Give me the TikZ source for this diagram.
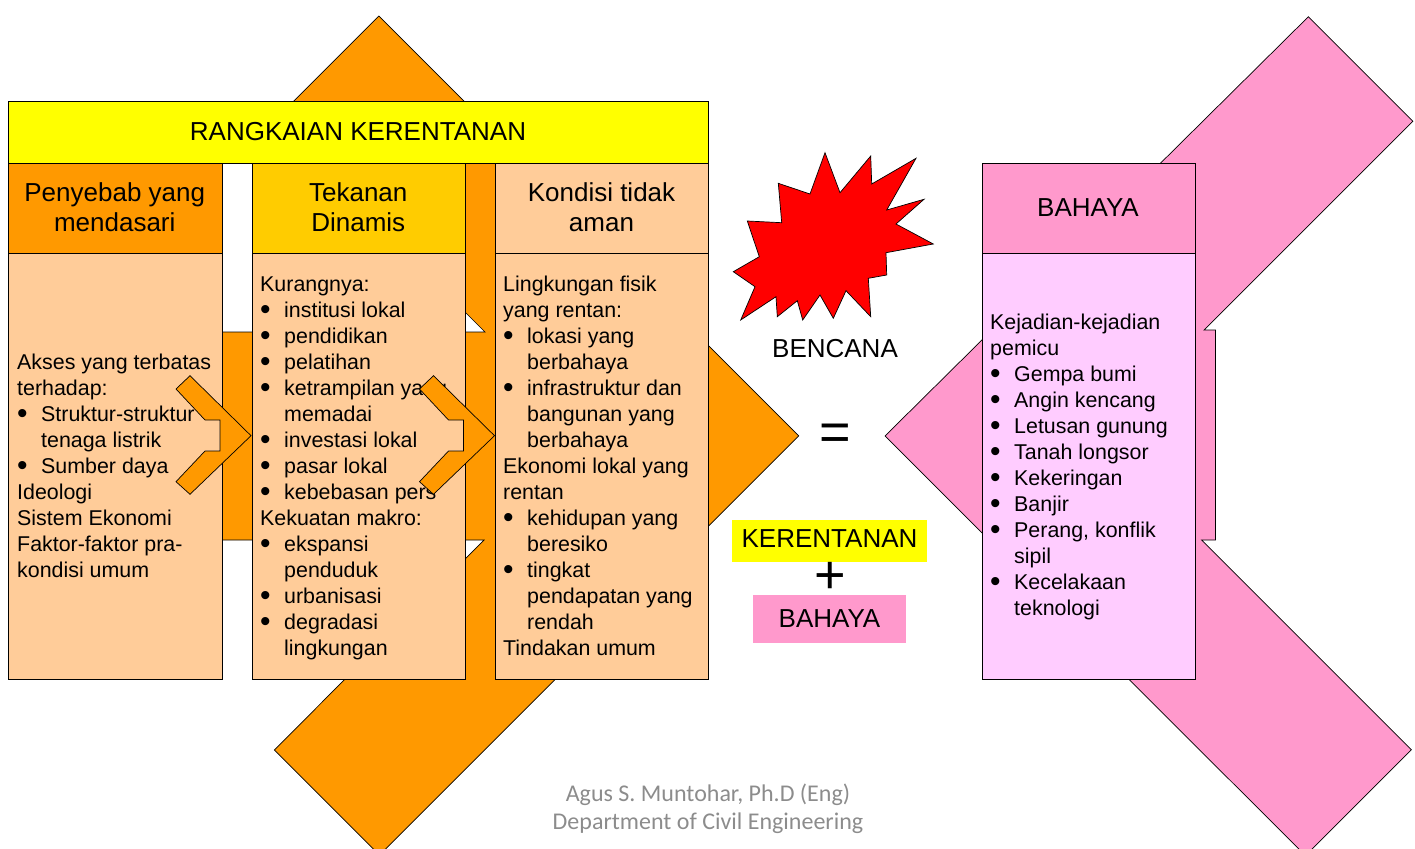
\documentclass[tikz,border=0pt]{standalone}
\usepackage{fontspec}
\setmainfont{Liberation Sans}
\newfontfamily\footfont{Carlito}
\definecolor{orangeA}{HTML}{FF9900}
\definecolor{goldA}{HTML}{FFCC00}
\definecolor{peachA}{HTML}{FFCC99}
\definecolor{yellowA}{HTML}{FFFF00}
\definecolor{pinkA}{HTML}{FF99CC}
\definecolor{pinkL}{HTML}{FFCCFF}
\definecolor{redA}{HTML}{FF0000}
\definecolor{footgray}{HTML}{8C8C8C}
\newcommand\bulx{\makebox[24pt][l]{\smash{\raisebox{-2.2pt}{\scalebox{1.4}{\textbullet}}}}}
\newcommand\indx{\hspace*{24pt}}
\begin{document}
\begin{tikzpicture}[x=1pt,y=-1pt,
  box/.style={draw=black, line width=0.9pt, rectangle, inner sep=0pt, anchor=north west},
  bigshape/.style={draw=black, line width=0.7pt, line join=miter},
  title/.style={font=\fontsize{26}{30}\selectfont, anchor=base, inner sep=0pt},
  body/.style={font=\fontsize{21.4}{26}\selectfont, anchor=base west, inner sep=0pt},
  sign/.style={font=\fontsize{54}{60}\selectfont, anchor=center, inner sep=0pt},
  foot/.style={font=\footfont\fontsize{24}{28}\selectfont, text=footgray, anchor=base, inner sep=0pt}]

\useasboundingbox (0,0) rectangle (1415,848);

% orange chevron with its horizontal band
\draw[bigshape, fill=orangeA] (378.9,16) -- (798.7,435.9) -- (379.5,855.2) -- (274.3,750)
  -- (484,540) -- (120,540) -- (120,332) -- (485,332) -- (274,121) -- cycle;

% pink chevron with its horizontal band
\draw[bigshape, fill=pinkA] (1308.4,16.7) -- (1412.9,121.2) -- (1204,330) -- (1215.4,330)
  -- (1215.4,540) -- (1201.5,540) -- (1411.3,749.8) -- (1305.5,855.6) -- (885,436) -- cycle;

% vulnerability chain boxes
\node[box, fill=yellowA, minimum width=700pt, minimum height=61.5pt] (hdr) at (8,101) {};
\node[box, fill=orangeA, minimum width=213.5pt, minimum height=90.5pt] (hone) at (8,162.5) {};
\node[box, fill=goldA, minimum width=213.5pt, minimum height=90.5pt] (htwo) at (251.5,162.5) {};
\node[box, fill=peachA, minimum width=213pt, minimum height=90.5pt] (hthree) at (495,162.5) {};
\node[box, fill=peachA, minimum width=213.5pt, minimum height=426pt] (bone) at (8,253) {};
\node[box, fill=peachA, minimum width=213.5pt, minimum height=426pt] (btwo) at (251.5,253) {};
\node[box, fill=peachA, minimum width=213pt, minimum height=426pt] (bthree) at (495,253) {};

% hazard box
\node[box, fill=pinkA, minimum width=213.5pt, minimum height=90.5pt] (hhaz) at (981.5,162.5) {};
\node[box, fill=pinkL, minimum width=213.5pt, minimum height=425.5pt] (bhaz) at (981.5,253) {};

% titles
\node[title] (hdrtxt) at (358,140.3) {RANGKAIAN KERENTANAN};
\node[title] (honea) at (114.75,201.3) {Penyebab yang};
\node[title] (honeb) at (114.75,231.3) {mendasari};
\node[title] (htwoa) at (358.25,201.3) {Tekanan};
\node[title] (htwob) at (358.25,231.3) {Dinamis};
\node[title] (hthreea) at (601.5,201.3) {Kondisi tidak};
\node[title] (hthreeb) at (601.5,231.3) {aman};
\node[title] (hhaztxt) at (1088,216.3) {BAHAYA};

% column texts
\foreach \t [count=\i from 0] in {{Akses yang terbatas}, {terhadap:}, {\bulx Struktur-struktur},
  {\indx tenaga listrik}, {\bulx Sumber daya}, {Ideologi}, {Sistem Ekonomi},
  {Faktor-faktor pra-}, {kondisi umum}}
  \node[body] (tone\i) at (17,{369.5+26*\i}) {\t};

\foreach \t [count=\i from 0] in {{Kurangnya:}, {\bulx institusi lokal}, {\bulx pendidikan},
  {\bulx pelatihan}, {\bulx ketrampilan yang}, {\indx memadai}, {\bulx investasi lokal},
  {\bulx pasar lokal}, {\bulx kebebasan pers}, {Kekuatan makro:}, {\bulx ekspansi},
  {\indx penduduk}, {\bulx urbanisasi}, {\bulx degradasi}, {\indx lingkungan}}
  \node[body] (ttwo\i) at (260,{291.5+26*\i}) {\t};

\foreach \t [count=\i from 0] in {{Lingkungan fisik}, {yang rentan:}, {\bulx lokasi yang},
  {\indx berbahaya}, {\bulx infrastruktur dan}, {\indx bangunan yang}, {\indx berbahaya},
  {Ekonomi lokal yang}, {rentan}, {\bulx kehidupan yang}, {\indx beresiko}, {\bulx tingkat},
  {\indx pendapatan yang}, {\indx rendah}, {Tindakan umum}}
  \node[body] (tthree\i) at (503,{291.5+26*\i}) {\t};

\foreach \t [count=\i from 0] in {{Kejadian-kejadian}, {pemicu}, {\bulx Gempa bumi},
  {\bulx Angin kencang}, {\bulx Letusan gunung}, {\bulx Tanah longsor}, {\bulx Kekeringan},
  {\bulx Banjir}, {\bulx Perang, konflik}, {\indx sipil}, {\bulx Kecelakaan}, {\indx teknologi}}
  \node[body] (thaz\i) at (990,{329.5+26*\i}) {\t};

% small chevron arrows between the columns
\foreach \dx in {0,243.5}
  \draw[bigshape, fill=orangeA, shift={(\dx,0)}] (190,375.7) -- (251,435.7) -- (190,494.3)
    -- (176,481.7) -- (205,451) -- (220,451) -- (220,420) -- (205,420) -- (176,389) -- cycle;

% disaster burst
\draw[bigshape, fill=redA] (733.3,271.7) -- (759.3,256.7) -- (747.3,221.0) -- (781.7,222.7)
  -- (778.3,183.3) -- (810.0,194.0) -- (825.0,152.7) -- (840.0,192.7) -- (870.7,156.0)
  -- (871.7,184.0) -- (916.0,158.3) -- (886.7,210.0) -- (924.0,199.3) -- (896.0,224.0)
  -- (933.3,244.0) -- (886.0,252.7) -- (886.7,275.0) -- (868.3,278.3) -- (870.7,316.7)
  -- (846.0,290.7) -- (833.3,318.3) -- (820.0,295.0) -- (802.7,320.0) -- (797.3,300.7)
  -- (777.3,316.7) -- (776.0,296.7) -- (740.7,320.0) -- (755.0,286.7) -- cycle;
\node[title] (bencana) at (835,357.3) {BENCANA};

% equation
\node[sign] (eq) at (835,437) {=};
\node[fill=yellowA, minimum width=194.4pt, minimum height=41.7pt, inner sep=0pt] (kbox) at (829.5,541) {};
\node[title, anchor=center] (ktxt) at (829.5,539) {KERENTANAN};
\node[sign] (plus) at (830,578.3) {+};
\node[fill=pinkA, minimum width=152.4pt, minimum height=48.3pt, inner sep=0pt] (hbox) at (829.5,619.2) {};
\node[title, anchor=center] (htxt) at (829.5,618.5) {BAHAYA};

% footer
\node[foot] (fa) at (708,801.7) {Agus S. Muntohar, Ph.D (Eng)};
\node[foot] (fb) at (708,829.7) {Department of Civil Engineering};
\end{tikzpicture}
\end{document}
